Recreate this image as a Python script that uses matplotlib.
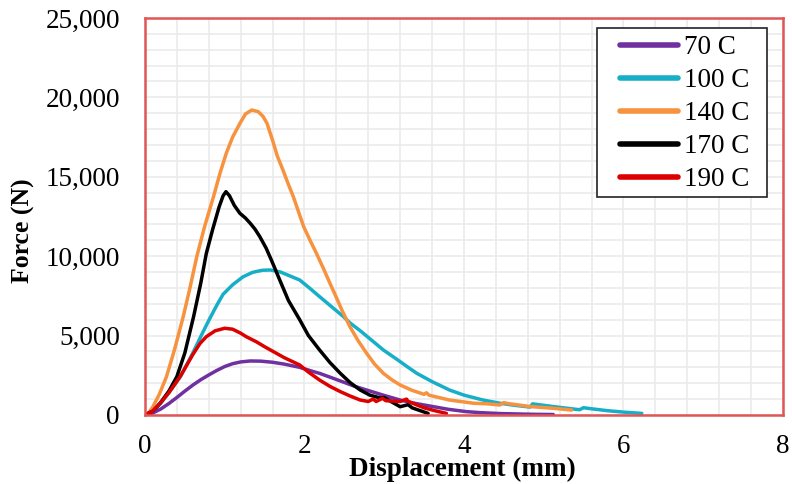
import numpy as np
from matplotlib import pyplot as plt
from matplotlib.ticker import MultipleLocator, FuncFormatter
from matplotlib.lines import Line2D
from matplotlib.patches import Rectangle
from matplotlib.legend_handler import HandlerLine2D

# 70 C
x70 = [0, 0.1, 0.2, 0.3, 0.4, 0.5, 0.6, 0.7, 0.8, 0.9, 1.0, 1.1, 1.2, 1.32, 1.45, 1.6, 1.75, 1.94,
       2.1, 2.19, 2.36, 2.5, 2.62, 2.78, 3.0, 3.2, 3.4, 3.62, 3.8, 4.03, 4.2, 4.45, 4.7, 4.9, 5.12]
f70 = [0, 130, 380, 720, 1100, 1500, 1880, 2220, 2520, 2800, 3050, 3230, 3340, 3400, 3390, 3320, 3200, 3000,
       2750, 2620, 2310, 2050, 1820, 1570, 1230, 940, 720, 520, 360, 210, 150, 90, 60, 40, 30]
# 100 C
x100 = [0, 0.1, 0.2, 0.3, 0.45, 0.6, 0.71, 0.8, 0.9, 0.98, 1.1, 1.23, 1.35, 1.47, 1.57, 1.7, 1.82, 1.94,
        2.05, 2.19, 2.32, 2.49, 2.57, 2.7, 2.82, 2.99, 3.16, 3.3, 3.41, 3.6, 3.82, 4.0, 4.24, 4.45, 4.65,
        4.83, 4.86, 4.95, 5.2, 5.45, 5.5, 5.55, 5.8, 6.0, 6.23]
f100 = [0, 250, 750, 1400, 2450, 3900, 5040, 5950, 6900, 7600, 8200, 8700, 8980, 9110, 9130, 9000, 8750, 8500,
        8050, 7450, 6900, 6190, 5800, 5300, 4800, 4090, 3500, 3000, 2620, 2100, 1570, 1250, 940, 740, 600,
        500, 700, 640, 480, 330, 460, 420, 270, 180, 100]
# 140 C
x140 = [0, 0.05, 0.1, 0.18, 0.27, 0.37, 0.48, 0.56, 0.65, 0.75, 0.86, 0.94, 1.02, 1.10, 1.19, 1.26, 1.34,
        1.42, 1.48, 1.53, 1.60, 1.66, 1.73, 1.80, 1.86, 1.99, 2.07, 2.15, 2.24, 2.32, 2.40, 2.47, 2.57,
        2.67, 2.78, 2.88, 2.99, 3.1, 3.2, 3.35, 3.5, 3.53, 3.56, 3.82, 4.12, 4.3, 4.45, 4.5, 4.55, 4.83,
        5.1, 5.35]
f140 = [0, 150, 520, 1300, 2410, 4100, 6190, 7900, 9970, 11900, 13750, 15200, 16480, 17500, 18350, 18950, 19200,
        19100, 18800, 18370, 17300, 16300, 15430, 14500, 13750, 11860, 11000, 10180, 9200, 8290, 7400, 6600, 5560,
        4700, 3880, 3200, 2620, 2200, 1890, 1550, 1300, 1400, 1250, 940, 740, 700, 630, 780, 720, 530,
        430, 310]
# 170 C
x170 = [0, 0.1, 0.19, 0.3, 0.40, 0.5, 0.61, 0.7, 0.77, 0.85, 0.93, 0.98, 1.016, 1.06, 1.12, 1.19, 1.26,
        1.32, 1.38, 1.44, 1.52, 1.59, 1.69, 1.8, 1.94, 2.05, 2.19, 2.32, 2.45, 2.57, 2.70, 2.82, 2.95,
        3.0, 3.05, 3.2, 3.3, 3.35, 3.51, 3.55]
f170 = [0, 250, 740, 1500, 2410, 3900, 6190, 8300, 10180, 11700, 13100, 13800, 14060, 13800, 13200, 12700, 12400,
        12070, 11700, 11230, 10500, 9700, 8500, 7200, 6000, 5000, 4090, 3300, 2620, 2050, 1570, 1250, 1070,
        1100, 950, 520, 650, 450, 170, 100]
# 190 C
x190 = [0, 0.1, 0.19, 0.3, 0.44, 0.52, 0.6, 0.69, 0.77, 0.88, 1.0, 1.1, 1.2, 1.27, 1.4, 1.5, 1.61, 1.75,
        1.94, 2.05, 2.19, 2.32, 2.45, 2.57, 2.70, 2.8, 2.86, 2.9, 2.98, 3.02, 3.2, 3.28, 3.3, 3.5, 3.65, 3.78]
f190 = [0, 250, 740, 1400, 2410, 3100, 3800, 4500, 4930, 5300, 5460, 5400, 5150, 4930, 4600, 4300, 3990, 3600,
        3150, 2700, 2200, 1800, 1470, 1200, 940, 850, 1000, 850, 1050, 900, 850, 1000, 850, 450, 250, 100]

series = [(x70, f70, '70 C', '#7030A0'),
          (x100, f100, '100 C', '#17AFC8'),
          (x140, f140, '140 C', '#F7923E'),
          (x170, f170, '170 C', '#000000'),
          (x190, f190, '190 C', '#DD0000')]

plt.rcParams['font.family'] = ['Liberation Serif', 'DejaVu Serif']

fig = plt.figure(figsize=(7.92, 4.84), dpi=100)
ax = fig.add_axes([0.183, 0.1426, 0.8056, 0.8204])

for x, f, lab, col in series:
    ax.plot(x, f, color=col, lw=2.5, label=lab, solid_joinstyle='round', solid_capstyle='round')

ax.set_xlim(0, 8)
ax.set_ylim(0, 25000)
ax.xaxis.set_major_locator(MultipleLocator(2))
ax.xaxis.set_minor_locator(MultipleLocator(0.4))
ax.yaxis.set_major_locator(MultipleLocator(5000))
ax.yaxis.set_minor_locator(MultipleLocator(1000))
ax.yaxis.set_major_formatter(FuncFormatter(lambda v, p: '{:,.0f}'.format(v)))
ax.grid(which='both', color='#EBEBEB', lw=1.2)
ax.set_axisbelow(True)
ax.tick_params(which='both', length=0, labelsize=19.5)
ax.tick_params(axis='x', pad=14)
ax.tick_params(axis='y', pad=18)
for s in ax.spines.values():
    s.set_color('#E05555')
    s.set_linewidth(1.8)

ax.set_xlabel('Displacement (mm)', fontsize=19.5, fontweight='bold')
ax.xaxis.set_label_coords(0.498, -0.106)
ax.set_ylabel('Force (N)', fontsize=18.5, fontweight='bold')
ax.yaxis.set_label_coords(-0.172, 0.463)

# legend box drawn separately so its padding matches the original
box = Rectangle((0.7085, 0.549), 0.2665, 0.426, transform=ax.transAxes, facecolor='white',
                edgecolor='#222222', lw=1.2, zorder=4.5)
ax.add_patch(box)
leg = ax.legend(loc='upper left', bbox_to_anchor=(0.721, 0.957), fontsize=19.5, frameon=False,
                handlelength=2.7, handletextpad=0.2, labelspacing=0.3, borderpad=0, borderaxespad=0,
                handler_map={Line2D: HandlerLine2D(xpad=0.55)})
for h in leg.get_lines():
    h.set_linewidth(4)

fig.savefig('out.png')
